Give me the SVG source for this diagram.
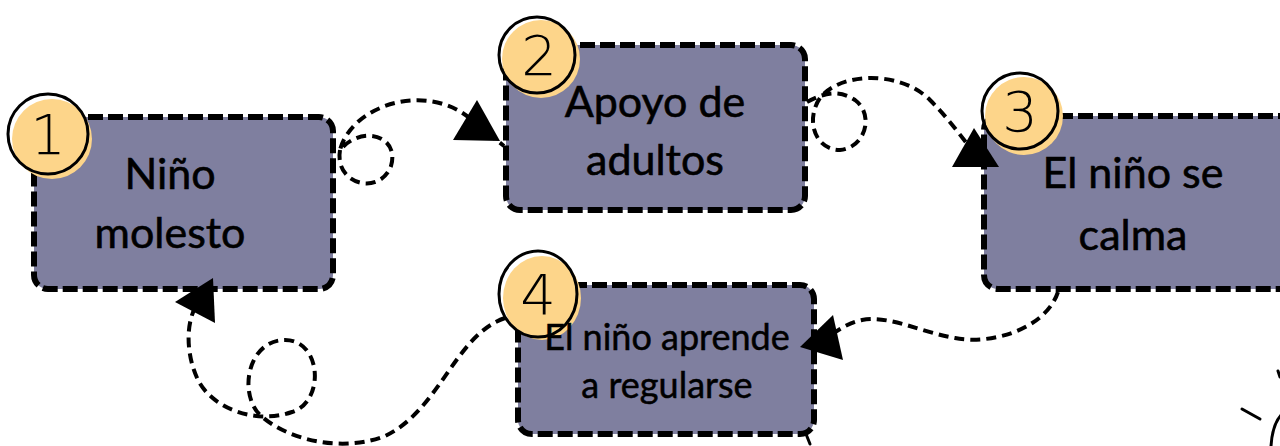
<svg xmlns="http://www.w3.org/2000/svg" width="1280" height="446" viewBox="0 0 1280 446">
<style>
.box{fill:#7f7f9f;stroke:#000;stroke-width:6;stroke-dasharray:15 5}
.lbl{font-family:Lato,"Open Sans",sans-serif;font-size:43px;fill:#000;stroke:#000;stroke-width:0.6;text-anchor:middle}
.lbl4{font-family:Lato,"Open Sans",sans-serif;font-size:36px;fill:#000;stroke:#000;stroke-width:0.5;text-anchor:middle}
.by{fill:#fdd58a}
.bo{fill:none;stroke:#000;stroke-width:3}
.num{font-family:"DejaVu Sans",sans-serif;font-weight:200;font-size:56px;fill:#000;text-anchor:middle}
.con{fill:none;stroke:#000;stroke-width:4;stroke-dasharray:10 6}
.arr{fill:#000}
.ink{fill:none;stroke:#000;stroke-width:3;stroke-linecap:round}
</style>
<rect width="1280" height="446" fill="#fff"/>
<g id="node1">
<rect class="box" x="34" y="117" width="299" height="172" rx="14"/>
<circle class="by" cx="52" cy="139" r="40"/>
<circle class="bo" cx="48" cy="134" r="40"/>
<text class="num" x="48" y="154">1</text>
<text class="lbl" x="170" y="189">Niño</text>
<text class="lbl" x="170" y="248">molesto</text>
</g>
<g id="node2">
<rect class="box" x="506" y="45" width="299" height="165" rx="14"/>
<circle class="by" cx="541" cy="59" r="39"/>
<circle class="bo" cx="537" cy="55" r="38"/>
<text class="num" x="539" y="75">2</text>
<text class="lbl" x="655" y="117">Apoyo de</text>
<text class="lbl" x="655" y="175">adultos</text>
</g>
<g id="node3">
<rect class="box" x="984" y="116" width="310" height="173" rx="14"/>
<circle class="by" cx="1024" cy="116" r="39"/>
<circle class="bo" cx="1020" cy="111" r="38"/>
<text class="num" x="1020" y="131">3</text>
<text class="lbl" x="1133" y="188">El niño se</text>
<text class="lbl" x="1133" y="250">calma</text>
</g>
<g id="node4">
<rect class="box" x="518" y="285" width="296" height="149" rx="14"/>
<ellipse class="by" cx="542" cy="298" rx="39" ry="42"/>
<ellipse class="bo" cx="538" cy="294" rx="39" ry="43"/>
<text class="num" x="538" y="314">4</text>
<text class="lbl4" x="667" y="350">El niño aprende</text>
<text class="lbl4" x="667" y="398">a regularse</text>
</g>
<g id="connectors">
<path class="con" d="M340,150 C334,185 380,196 391,166 C400,136 362,124 340,150 C352,104 430,80 474,122 L504,146"/>
<polygon class="arr" points="477,100 453,140 500,141"/>
<path class="con" d="M807,102 C825,92 840,90 855,100 C875,115 865,148 840,150 C815,150 805,120 820,98 C840,72 900,70 930,100 C948,118 960,135 972,150 L984,168"/>
<polygon class="arr" points="974,128 952,167 999,167"/>
<path class="con" d="M1058,292 C1045,330 990,345 955,338 C920,332 890,315 862,320 C848,323 838,330 828,337"/>
<polygon class="arr" points="800,347 833,315 843,360"/>
<path class="con" d="M505,318 C455,335 440,410 385,436 C345,452 290,442 260,415 C238,393 248,340 285,340 C322,340 325,402 292,412 C255,425 212,408 198,380 C186,355 186,325 195,308"/>
<polygon class="arr" points="175,302 213,278 215,323"/>
</g>
<g id="corner">
<path class="ink" d="M1242,409 L1260,419"/>
<path class="ink" d="M1278,371 L1280,377"/>
<path class="ink" d="M1271,446 C1272,430 1276,420 1282,414"/>
<path class="ink" d="M806,434 L810,444"/>
</g>
</svg>
